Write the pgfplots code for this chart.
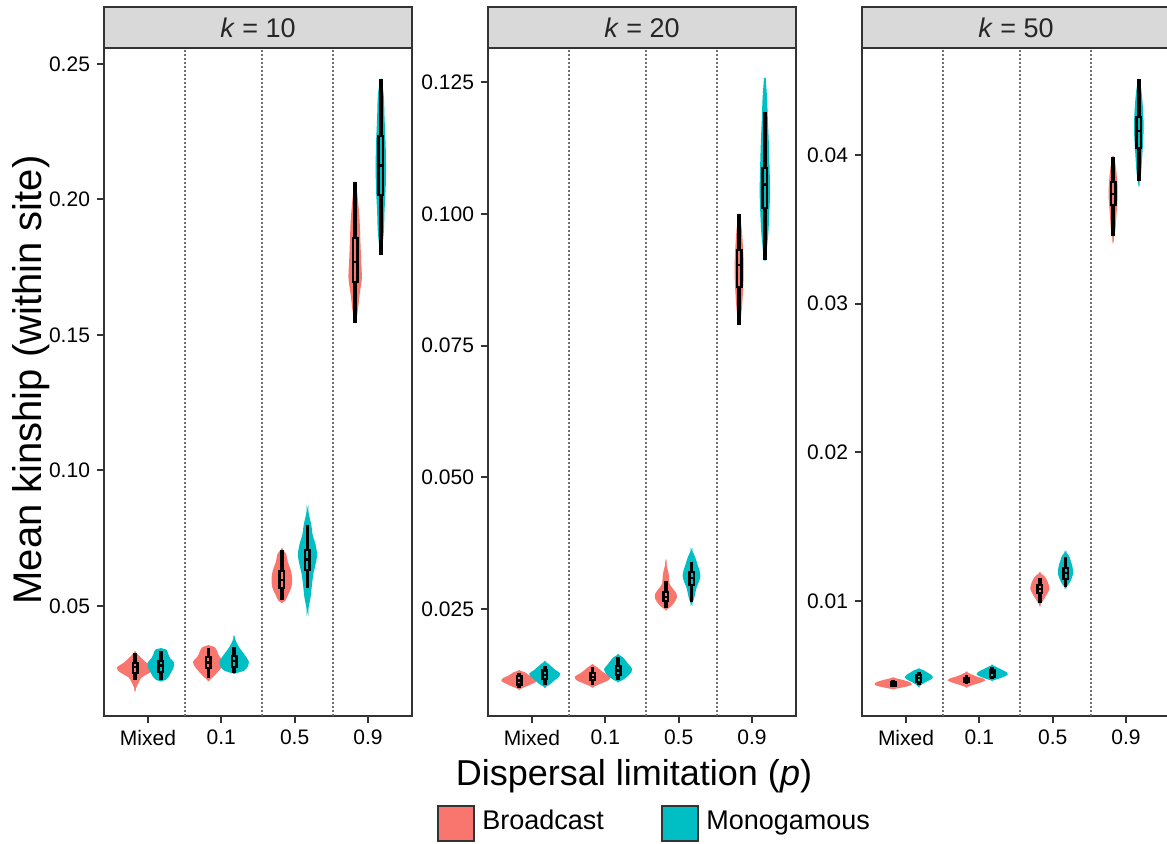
\documentclass[border=0pt]{standalone}
\usepackage{fontspec}
\setmainfont{Liberation Sans}
\usepackage{pgfplots}
\usepackage{pgfplotstable}
\pgfplotsset{compat=1.18}
\definecolor{bc}{HTML}{F8766D}
\definecolor{mc}{HTML}{00BFC4}
\definecolor{stripgray}{HTML}{D9D9D9}
\definecolor{frame}{HTML}{333333}
\definecolor{vgray}{HTML}{707070}

% ---------- violin outlines: y, half-width (x units) ----------
% Panel k = 10
\pgfplotstableread{
y w
0.0327 0
0.0308 0.07
0.0290 0.14
0.0271 0.24
0.0256 0.19
0.0238 0.08
0.0220 0.04
0.0197 0
}\vAMB
\pgfplotstableread{
y w
0.0341 0
0.0336 0.07
0.0322 0.09
0.0305 0.12
0.0290 0.17
0.0271 0.16
0.0256 0.13
0.0241 0.10
0.0230 0.06
0.0225 0
}\vAMM
\pgfplotstableread{
y w
0.0352 0
0.0345 0.08
0.0330 0.11
0.0312 0.14
0.0293 0.20
0.0275 0.17
0.0256 0.11
0.0241 0.06
0.0227 0
}\vAOB
\pgfplotstableread{
y w
0.0378 0
0.0360 0.03
0.0345 0.06
0.0327 0.11
0.0308 0.16
0.0293 0.19
0.0279 0.18
0.0264 0.13
0.0253 0
}\vAOM
\pgfplotstableread{
y w
0.0707 0
0.0690 0.05
0.0662 0.07
0.0633 0.11
0.0600 0.13
0.0570 0.12
0.0545 0.08
0.0522 0.04
0.0515 0
}\vAFB
\pgfplotstableread{
y w
0.0847 0
0.0800 0.04
0.0762 0.06
0.0725 0.10
0.0688 0.12
0.0655 0.10
0.0620 0.07
0.0578 0.05
0.0530 0.03
0.0490 0
}\vAFM
\pgfplotstableread{
y w
0.2065 0
0.1990 0.03
0.1920 0.05
0.1850 0.06
0.1780 0.07
0.1710 0.08
0.1650 0.05
0.1600 0.03
0.1544 0
}\vANB
\pgfplotstableread{
y w
0.2445 0
0.2380 0.03
0.2300 0.04
0.2200 0.055
0.2120 0.06
0.2040 0.055
0.1960 0.04
0.1880 0.03
0.1800 0
}\vANM
% Panel k = 20
\pgfplotstableread{
y w
0.0132 0
0.0128 0.08
0.0123 0.13
0.0118 0.21
0.0114 0.23
0.0110 0.18
0.0106 0.12
0.0102 0.05
0.0099 0
}\vBMB
\pgfplotstableread{
y w
0.0149 0
0.0144 0.05
0.0139 0.09
0.0133 0.14
0.0127 0.20
0.0121 0.17
0.0115 0.12
0.0109 0.07
0.0103 0
}\vBMM
\pgfplotstableread{
y w
0.0143 0
0.0138 0.06
0.0132 0.11
0.0126 0.17
0.0121 0.23
0.0116 0.21
0.0111 0.13
0.0107 0.06
0.0103 0
}\vBOB
\pgfplotstableread{
y w
0.0162 0
0.0157 0.06
0.0150 0.10
0.0143 0.14
0.0136 0.18
0.0129 0.16
0.0122 0.11
0.0117 0.06
0.0113 0
}\vBOM
\pgfplotstableread{
y w
0.0333 0
0.0315 0.03
0.0298 0.04
0.0289 0.08
0.0280 0.13
0.0272 0.14
0.0264 0.11
0.0257 0.07
0.0250 0
}\vBFB
\pgfplotstableread{
y w
0.0360 0
0.0348 0.04
0.0335 0.07
0.0322 0.10
0.0312 0.11
0.0302 0.09
0.0292 0.06
0.0280 0.04
0.0268 0.02
0.0262 0
}\vBFM
\pgfplotstableread{
y w
0.1000 0
0.0970 0.025
0.0940 0.04
0.0910 0.05
0.0880 0.05
0.0850 0.04
0.0820 0.025
0.0790 0
}\vBNB
\pgfplotstableread{
y w
0.1258 0
0.1220 0.02
0.1180 0.03
0.1130 0.045
0.1080 0.055
0.1040 0.06
0.1000 0.05
0.0960 0.035
0.0912 0
}\vBNM
% Panel k = 50
\pgfplotstableread{
y w
0.00480 0
0.00470 0.08
0.00460 0.16
0.00450 0.22
0.00440 0.24
0.00430 0.18
0.00420 0.08
0.00412 0
}\vCMB
\pgfplotstableread{
y w
0.00540 0
0.00530 0.06
0.00515 0.11
0.00500 0.16
0.00488 0.18
0.00475 0.15
0.00460 0.09
0.00445 0.04
0.00430 0
}\vCMM
\pgfplotstableread{
y w
0.00518 0
0.00505 0.05
0.00490 0.12
0.00478 0.20
0.00468 0.24
0.00455 0.18
0.00440 0.08
0.00425 0
}\vCOB
\pgfplotstableread{
y w
0.00565 0
0.00550 0.06
0.00535 0.12
0.00520 0.18
0.00508 0.20
0.00495 0.15
0.00482 0.08
0.00470 0
}\vCOM
\pgfplotstableread{
y w
0.01185 0
0.01160 0.06
0.01135 0.09
0.01110 0.11
0.01085 0.12
0.01060 0.10
0.01035 0.07
0.01010 0.04
0.00980 0
}\vCFB
\pgfplotstableread{
y w
0.01325 0
0.01300 0.04
0.01270 0.06
0.01240 0.08
0.01210 0.09
0.01180 0.09
0.01150 0.07
0.01120 0.04
0.01095 0
}\vCFM
\pgfplotstableread{
y w
0.0399 0
0.0392 0.025
0.0385 0.04
0.0378 0.05
0.0371 0.05
0.0364 0.04
0.0357 0.03
0.0350 0.02
0.0345 0
}\vCNB
\pgfplotstableread{
y w
0.0451 0
0.0443 0.025
0.0435 0.04
0.0427 0.05
0.0419 0.055
0.0411 0.05
0.0403 0.04
0.0395 0.03
0.0388 0.02
0.0383 0
}\vCNM

% violin: center, colour, table  (two halves, each closed along the centre line)
\newcommand{\violin}[3]{%
  \addplot[fill=#2, draw=#2, line width=0.8pt, smooth] table[x expr={#1-\thisrow{w}}, y=y] {#3} -- cycle;
  \addplot[fill=#2, draw=#2, line width=0.8pt, smooth] table[x expr={#1+\thisrow{w}}, y=y] {#3} -- cycle;
}
% box: position, colour, lower whisker, q1, median, q3, upper whisker
\newcommand{\bx}[7]{%
  \addplot[black, line width=1.7pt] coordinates {(#1,#3) (#1,#7)};
  \addplot[draw=black, fill=#2, line width=1.2pt] table[x expr={#1+\thisrow{d}}, y=y, row sep=\\]
    {d y\\ -0.03 #4\\ 0.03 #4\\ 0.03 #6\\ -0.03 #6\\} -- cycle;
  \addplot[black, line width=1.4pt] table[x expr={#1+\thisrow{d}}, y=y, row sep=\\]
    {d y\\ -0.03 #5\\ 0.03 #5\\};
}
\newcommand{\vl}[3]{\draw[vgray, line width=1pt, dash pattern=on 1pt off 1pt] (axis cs:#1,#2) -- (axis cs:#1,#3);}

\newcommand{\ticfont}{\fontsize{10.5}{12}\selectfont}
\pgfplotsset{panel/.style={
  scale only axis, width=154pt, height=334pt, anchor=south west,
  xmin=0.4, xmax=4.6, xtick={1,2,3,4}, xticklabels={Mixed,0.1,0.5,0.9},
  tick align=outside, major tick length=3.5pt,
  axis line style={draw=frame, line width=1pt},
  every tick/.style={draw=frame, line width=1pt},
  ticklabel style={font=\ticfont, text=black},
  xtick pos=left, ytick pos=left, scaled y ticks=false,
  /pgf/number format/assume math mode=true,
  clip=true}}

\begin{document}
\begin{tikzpicture}
\useasboundingbox (0,0) rectangle (583.5pt,422pt);

% ---------------- k = 10 ----------------
\begin{axis}[panel, name=p1, at={(52pt,64pt)}, ymin=0.0094, ymax=0.2559,
  ytick={0.05,0.10,0.15,0.20,0.25},
  yticklabel style={/pgf/number format/.cd, fixed, fixed zerofill, precision=2}]
\vl{1.5}{0.0094}{0.2559}\vl{2.55}{0.0094}{0.2559}\vl{3.52}{0.0094}{0.2559}
\violin{0.825}{bc}{\vAMB}
\violin{1.175}{mc}{\vAMM}
\violin{1.825}{bc}{\vAOB}
\violin{2.175}{mc}{\vAOM}
\violin{2.825}{bc}{\vAFB}
\violin{3.175}{mc}{\vAFM}
\violin{3.825}{bc}{\vANB}
\violin{4.175}{mc}{\vANM}
\bx{0.825}{bc}{0.0227}{0.0253}{0.0275}{0.0290}{0.0327}
\bx{1.175}{mc}{0.0227}{0.0256}{0.0279}{0.0297}{0.0334}
\bx{1.825}{bc}{0.0234}{0.0271}{0.0292}{0.0312}{0.0344}
\bx{2.175}{mc}{0.0253}{0.0275}{0.0297}{0.0315}{0.0349}
\bx{2.825}{bc}{0.0522}{0.0566}{0.0596}{0.0629}{0.0707}
\bx{3.175}{mc}{0.0566}{0.0633}{0.0670}{0.0707}{0.0799}
\bx{3.825}{bc}{0.1544}{0.1696}{0.1769}{0.1858}{0.2065}
\bx{4.175}{mc}{0.1795}{0.2017}{0.2124}{0.2234}{0.2445}
\end{axis}

% ---------------- k = 20 ----------------
\begin{axis}[panel, name=p2, at={(244pt,64pt)}, ymin=0.0047, ymax=0.1315,
  ytick={0.025,0.050,0.075,0.100,0.125},
  yticklabel style={/pgf/number format/.cd, fixed, fixed zerofill, precision=3}]
\vl{1.5}{0.0047}{0.1315}\vl{2.55}{0.0047}{0.1315}\vl{3.52}{0.0047}{0.1315}
\violin{0.825}{bc}{\vBMB}
\violin{1.175}{mc}{\vBMM}
\violin{1.825}{bc}{\vBOB}
\violin{2.175}{mc}{\vBOM}
\violin{2.825}{bc}{\vBFB}
\violin{3.175}{mc}{\vBFM}
\violin{3.825}{bc}{\vBNB}
\violin{4.175}{mc}{\vBNM}
\bx{0.825}{bc}{0.0100}{0.0107}{0.0115}{0.0123}{0.0129}
\bx{1.175}{mc}{0.0106}{0.0117}{0.0125}{0.0133}{0.0142}
\bx{1.825}{bc}{0.0106}{0.0115}{0.0121}{0.0129}{0.0140}
\bx{2.175}{mc}{0.0115}{0.0125}{0.0134}{0.0142}{0.0159}
\bx{2.825}{bc}{0.0252}{0.0265}{0.0273}{0.0282}{0.0303}
\bx{3.175}{mc}{0.0263}{0.0296}{0.0309}{0.0320}{0.0339}
\bx{3.825}{bc}{0.0789}{0.0861}{0.0903}{0.0931}{0.1000}
\bx{4.175}{mc}{0.0912}{0.1011}{0.1056}{0.1087}{0.1193}
\end{axis}

% ---------------- k = 50 ----------------
\begin{axis}[panel, name=p3, at={(431pt,64pt)}, ymin=0.00227, ymax=0.0472,
  ytick={0.01,0.02,0.03,0.04},
  yticklabel style={/pgf/number format/.cd, fixed, fixed zerofill, precision=2}]
\vl{1.5}{0.00227}{0.0472}\vl{2.55}{0.00227}{0.0472}\vl{3.52}{0.00227}{0.0472}
\violin{0.825}{bc}{\vCMB}
\violin{1.175}{mc}{\vCMM}
\violin{1.825}{bc}{\vCOB}
\violin{2.175}{mc}{\vCOM}
\violin{2.825}{bc}{\vCFB}
\violin{3.175}{mc}{\vCFM}
\violin{3.825}{bc}{\vCNB}
\violin{4.175}{mc}{\vCNM}
\bx{0.825}{bc}{0.00422}{0.00430}{0.00443}{0.00456}{0.00470}
\bx{1.175}{mc}{0.00436}{0.00456}{0.00483}{0.00503}{0.00523}
\bx{1.825}{bc}{0.00443}{0.00456}{0.00469}{0.00483}{0.00503}
\bx{2.175}{mc}{0.00476}{0.00490}{0.00517}{0.00537}{0.00557}
\bx{2.825}{bc}{0.00987}{0.01054}{0.01081}{0.01108}{0.01155}
\bx{3.175}{mc}{0.01095}{0.01149}{0.01189}{0.01223}{0.01297}
\bx{3.825}{bc}{0.03455}{0.03664}{0.03738}{0.03818}{0.03987}
\bx{4.175}{mc}{0.03825}{0.04047}{0.04161}{0.04256}{0.04511}
\end{axis}

% strips
\foreach \p/\k in {p1/10, p2/20, p3/50}{
  \draw[fill=stripgray, draw=frame, line width=1pt] (\p.north west) rectangle ([yshift=20.5pt]\p.north east);
  \node[font=\fontsize{13.5}{16}\selectfont, text=black!85] at ([yshift=10.25pt]\p.north) {\textit{k} = \k};
}

% axis titles
\node[rotate=90, font=\fontsize{20}{24}\selectfont] at (15.5pt,232pt) {Mean kinship (within site)};
\node[anchor=base, font=\fontsize{18}{22}\selectfont] at (317pt,29pt) {Dispersal limitation (\textit{p})};

% legend
\draw[fill=bc, draw=frame, line width=0.9pt] (219pt,1.5pt) rectangle (237pt,19pt);
\node[anchor=base west, inner sep=0pt, font=\fontsize{13.5}{16}\selectfont] at (241pt,7pt) {Broadcast};
\draw[fill=mc, draw=frame, line width=0.9pt] (331pt,1.5pt) rectangle (349pt,19pt);
\node[anchor=base west, inner sep=0pt, font=\fontsize{13.5}{16}\selectfont] at (353pt,7pt) {Monogamous};
\end{tikzpicture}
\end{document}
